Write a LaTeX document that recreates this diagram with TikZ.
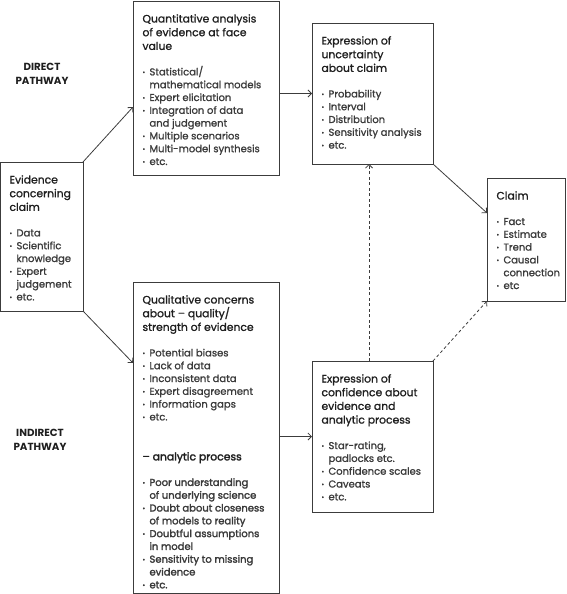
\documentclass[tikz,border=0pt]{standalone}
\usepackage{fontspec}
\setmainfont{Poppins}
\newfontfamily\medfont[FakeBold=1.2]{Poppins}
\newfontfamily\semifont[FakeBold=2.2]{Poppins}
\usetikzlibrary{arrows.meta}
\definecolor{linec}{HTML}{3C3C3C}
\definecolor{titlec}{HTML}{1E1E1E}
\definecolor{itemc}{HTML}{3A3A3A}
\newcommand\ttlf{\medfont\fontsize{10.8}{13.7}\selectfont}
\newcommand\itf{\fontsize{10}{12.8}\selectfont}
\newcommand\bul{\raisebox{0.9pt}{\scalebox{0.65}{•}}}
\newcommand\ttl[1]{\par\ttlf\semifont\noindent\color{titlec}#1\par}
\newcommand\firstttl[1]{\par\ttlf\noindent\color{titlec}\rule{0pt}{21.5pt}#1\par}
\newcommand\itm[1]{\par\itf\hangindent=7pt\hangafter=1\noindent\color{itemc}\makebox[7pt][l]{\bul}#1\par}
\newcommand\gap{\vspace{12.7pt}}
\newcommand\bx[3]{\parbox[t][#2][t]{#1}{\rightskip=0pt plus 1fil\parskip=0pt\parindent=0pt #3}}
\tikzset{
  box/.style={draw=linec, line width=0.9pt, inner xsep=9.5pt, inner ysep=0pt, anchor=north west, outer sep=0pt},
  arr/.style={draw=linec, line width=0.8pt, -{Straight Barb[length=3.5pt,width=7pt]}},
  darr/.style={arr, dash pattern=on 3pt off 2.5pt},
  path/.style={font=\bfseries\fontsize{10.3}{13.5}\selectfont, align=center, text=titlec}
}
\begin{document}
\begin{tikzpicture}[x=1pt,y=-1pt]
\useasboundingbox (0,0) rectangle (566,594);
% boxes
\node[box] (q) at (133,1) {\bx{127pt}{174pt}{%
  \firstttl{Quantitative analysis\\of evidence at face\\value}\gap
  \itm{Statistical/\\mathematical models}
  \itm{Expert elicitation}
  \itm{Integration of data\\and judgement}
  \itm{Multiple scenarios}
  \itm{Multi-model synthesis}
  \itm{etc.}}};
\node[box] (u) at (312,23) {\bx{102pt}{141pt}{%
  \firstttl{Expression of\\uncertainty\\about claim}\gap
  \itm{Probability}
  \itm{Interval}
  \itm{Distribution}
  \itm{Sensitivity analysis}
  \itm{etc.}}};
\node[box] (e) at (0,162) {\bx{64pt}{149pt}{%
  \firstttl{Evidence\\concerning\\claim}\gap
  \itm{Data}
  \itm{Scientific\\knowledge}
  \itm{Expert\\judgement}
  \itm{etc.}}};
\node[box] (ql) at (133,282) {\bx{127pt}{311pt}{%
  \firstttl{Qualitative concerns\\about – quality/\\strength of evidence}\gap
  \itm{Potential biases}
  \itm{Lack of data}
  \itm{Inconsistent data}
  \itm{Expert disagreement}
  \itm{Information gaps}
  \itm{etc.}\vspace{26.3pt}
  \ttl{– analytic process}\gap
  \itm{Poor understanding\\of underlying science}
  \itm{Doubt about closeness\\of models to reality}
  \itm{Doubtful assumptions\\in model}
  \itm{Sensitivity to missing\\evidence}
  \itm{etc.}}};
\node[box] (c) at (487,178) {\bx{59pt}{123pt}{%
  \firstttl{Claim}\gap
  \itm{Fact}
  \itm{Estimate}
  \itm{Trend}
  \itm{Causal\\connection}
  \itm{etc}}};
\node[box] (cf) at (312,361) {\bx{102pt}{151pt}{%
  \firstttl{Expression of\\confidence about\\evidence and\\analytic process}\gap
  \itm{Star-rating,\\padlocks etc.}
  \itm{Confidence scales}
  \itm{Caveats}
  \itm{etc.}}};
% labels
\node[path] (dp) at (42,74) {DIRECT\\PATHWAY};
\node[path] (ip) at (40,440) {INDIRECT\\PATHWAY};
% connectors
\draw[arr] (e.north east) -- ([yshift=-19pt]q.west);
\draw[arr] (e.south east) -- ([yshift=74.5pt]ql.west);
\draw[arr] (q.east |- u.west) -- (u.west);
\draw[arr] (u.south east) -- ([yshift=26.5pt]c.west);
\draw[arr] (ql.east |- cf.west) -- (cf.west);
\draw[darr] ([xshift=-3.5pt]cf.north) -- ([xshift=-3.5pt]u.south);
\draw[darr] (cf.north east) -- (c.south west);
\end{tikzpicture}
\end{document}
